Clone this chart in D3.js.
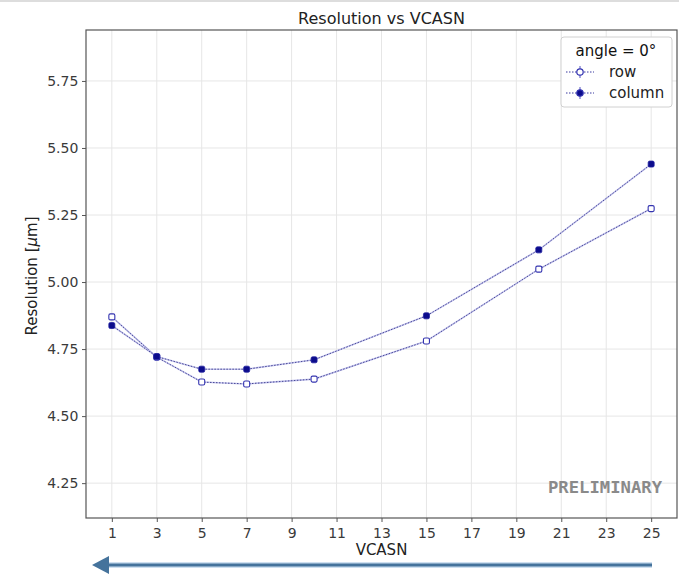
<!DOCTYPE html>
<html><head><meta charset="utf-8">
<script src="https://cdn.jsdelivr.net/npm/d3@7"></script>
<style>body{margin:0;background:#fff}svg{display:block}</style>
</head><body>
<svg id="c" width="679" height="577" font-family="DejaVu Sans, sans-serif"></svg>
<script>
const vcasn = [1, 3, 5, 7, 10, 15, 20, 25];
const rowRes = [4.87, 4.72, 4.627, 4.62, 4.638, 4.78, 5.048, 5.274];
const colRes = [4.838, 4.722, 4.675, 4.675, 4.71, 4.874, 5.12, 5.44];
const xTicks = [1,3,5,7,9,11,13,15,17,19,21,23,25];
const yTicks = [4.25, 4.50, 4.75, 5.00, 5.25, 5.50, 5.75];

const svg = d3.select("#c");
const L = 86, R = 677, T = 30, B = 518;
const x = d3.scaleLinear().domain([-0.15, 26.15]).range([L, R]);
const y = d3.scaleLinear().domain([4.12, 5.94]).range([B, T]);

svg.append("rect").attr("x",0).attr("y",0).attr("width",679).attr("height",2).attr("fill","#ddd");

// grid
const g = svg.append("g");
g.selectAll(".gx").data(xTicks).join("line").attr("x1",d=>x(d)).attr("x2",d=>x(d)).attr("y1",T).attr("y2",B).attr("stroke","#e6e6e6").attr("stroke-width",1);
g.selectAll(".gy").data(yTicks).join("line").attr("y1",d=>y(d)).attr("y2",d=>y(d)).attr("x1",L).attr("x2",R).attr("stroke","#e6e6e6").attr("stroke-width",1);

// axes
const xa = svg.append("g").attr("transform",`translate(0,${B})`).call(d3.axisBottom(x).tickValues(xTicks).tickFormat(d3.format("d")).tickSize(4).tickSizeOuter(0));
const ya = svg.append("g").attr("transform",`translate(${L},0)`).call(d3.axisLeft(y).tickValues(yTicks).tickFormat(d3.format(".2f")).tickSize(4).tickSizeOuter(0));
[xa, ya].forEach(a => {
  a.select(".domain").remove();
  a.attr("font-family","DejaVu Sans, sans-serif").attr("font-size",14);
  a.selectAll("line").attr("stroke","#555");
  a.selectAll("text").attr("fill","#3a3a3a");
});
xa.selectAll("text").attr("dy","0.95em");
ya.selectAll("text").attr("dx","-0.05em");

// frame
svg.append("rect").attr("x",L).attr("y",T).attr("width",R-L).attr("height",B-T).attr("fill","none").attr("stroke","#555").attr("stroke-width",1.2);

// lines
const line = d3.line().x(d=>x(d[0])).y(d=>y(d[1]));
const rowPts = vcasn.map((v,i)=>[v,rowRes[i]]);
const colPts = vcasn.map((v,i)=>[v,colRes[i]]);
[rowPts, colPts].forEach(pts => {
  svg.append("path").datum(pts).attr("d",line).attr("fill","none").attr("stroke","#c4c4ee").attr("stroke-width",1.6);
  svg.append("path").datum(pts).attr("d",line).attr("fill","none").attr("stroke","#3a3a8a").attr("stroke-width",0.9).attr("stroke-dasharray","1.5,1.5");
});
svg.selectAll(".rm").data(rowPts).join("rect").attr("x",d=>x(d[0])-3).attr("y",d=>y(d[1])-3).attr("width",6).attr("height",6).attr("rx",1.5)
  .attr("fill","#fff").attr("stroke","#3434b0").attr("stroke-width",1.1);
svg.selectAll(".cm").data(colPts).join("rect").attr("x",d=>x(d[0])-3).attr("y",d=>y(d[1])-3).attr("width",6).attr("height",6).attr("rx",1.5)
  .attr("fill","#0c0c8c").attr("stroke","#2020a0").attr("stroke-width",0.8);

// title and labels
svg.append("text").attr("x",(L+R)/2).attr("y",24).attr("text-anchor","middle").attr("font-size",16).attr("fill","#222").text("Resolution vs VCASN");
svg.append("text").attr("x",(L+R)/2).attr("y",555).attr("text-anchor","middle").attr("font-size",15).attr("fill","#222").text("VCASN");
const yl = svg.append("text").attr("transform","translate(37,276) rotate(-90)").attr("text-anchor","middle").attr("font-size",15).attr("fill","#222");
yl.append("tspan").text("Resolution [");
yl.append("tspan").attr("font-style","italic").text("μ");
yl.append("tspan").text("m]");

// legend
const lg = svg.append("g");
lg.append("rect").attr("x",561).attr("y",37).attr("width",111).attr("height",70).attr("rx",3).attr("fill","#fff").attr("stroke","#d0d0d0");
lg.append("text").attr("x",616).attr("y",56).attr("text-anchor","middle").attr("font-size",15).attr("fill","#111").text("angle = 0°");
const leg = [{label:"row", fill:"#fff", yy:72},{label:"column", fill:"#0c0c8c", yy:93}];
leg.forEach(e => {
  lg.append("line").attr("x1",566).attr("x2",594).attr("y1",e.yy).attr("y2",e.yy).attr("stroke","#3a3aa0").attr("stroke-dasharray","1.5,1.5");
  lg.append("line").attr("x1",580).attr("x2",580).attr("y1",e.yy-6).attr("y2",e.yy+6).attr("stroke","#5050c0").attr("stroke-width",1);
  lg.append("circle").attr("cx",580).attr("cy",e.yy).attr("r",3.2).attr("fill",e.fill).attr("stroke","#3030b0").attr("stroke-width",1.2);
  lg.append("text").attr("x",609).attr("y",e.yy+5).attr("font-size",15).attr("fill","#222").text(e.label);
});

// preliminary
svg.append("text").attr("x",548).attr("y",493).attr("font-family","DejaVu Sans Mono, monospace").attr("font-weight","bold").attr("font-size",15.5).attr("textLength",114).attr("lengthAdjust","spacingAndGlyphs").attr("fill","#8a8a8a").text("PRELIMINARY");

// arrow
svg.append("line").attr("x1",652).attr("x2",104).attr("y1",565).attr("y2",565).attr("stroke","#cfe0f0").attr("stroke-width",6);
svg.append("line").attr("x1",652).attr("x2",104).attr("y1",565).attr("y2",565).attr("stroke","#45739c").attr("stroke-width",3);
svg.append("path").attr("d","M92,565 L109,556 L109,574 Z").attr("fill","#45739c");
</script>
</body></html>
